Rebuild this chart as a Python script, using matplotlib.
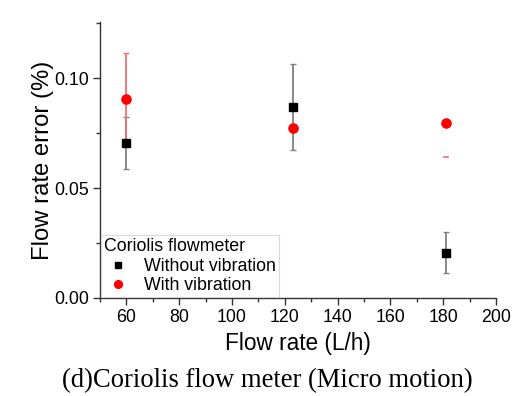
import matplotlib
matplotlib.use("Agg")
import matplotlib.pyplot as plt
import numpy as np
from matplotlib.ticker import MultipleLocator

plt.rcParams['font.family'] = ['Liberation Sans', 'DejaVu Sans']

# Data
x_without = [60, 123, 181]
y_without = [0.0706, 0.0868, 0.0205]
err_without = [0.0118, 0.0195, 0.0093]

x_with = [60, 123, 181]
y_with = [0.0905, 0.0773, 0.0794]
err_with = [0.021, 0.0, 0.0]

# stray lower cap visible for red series at 181
x_with_cap = [181]
y_with_cap = [0.0642]

fig = plt.figure(figsize=(5.28, 3.96), dpi=100)
ax = fig.add_axes([100/528, 1 - 298/396, 396/528, 276/396])

ax.errorbar(x_without, y_without, yerr=err_without, fmt='none',
            ecolor='#808080', elinewidth=1.3, capsize=2.5, capthick=1.0, zorder=2)
ax.errorbar(x_with, y_with, yerr=err_with, fmt='none',
            ecolor='#f07070', elinewidth=1.3, capsize=2.5, capthick=1.0, zorder=2)
ax.plot(x_with_cap, y_with_cap, linestyle='none', marker='_', color='#f07070',
        markersize=5, markeredgewidth=1.2, zorder=2)

h1, = ax.plot(x_without, y_without, linestyle='none', marker='s', color='black',
              markersize=5.6, label='Without vibration', zorder=3)
h2, = ax.plot(x_with, y_with, linestyle='none', marker='o', color='#ff0000',
              markersize=6.6, label='With vibration', zorder=4)

ax.set_xlim(50, 200)
ax.set_ylim(0, 0.1255)
ax.set_xticks([60, 80, 100, 120, 140, 160, 180, 200])
ax.xaxis.set_minor_locator(MultipleLocator(10))
ax.yaxis.set_major_locator(MultipleLocator(0.05))
ax.yaxis.set_minor_locator(MultipleLocator(0.025))
ax.yaxis.set_major_formatter(matplotlib.ticker.FormatStrFormatter('%.2f'))

for s in ['top', 'right']:
    ax.spines[s].set_visible(False)
for s in ['left', 'bottom']:
    ax.spines[s].set_linewidth(1.0)
    ax.spines[s].set_color('#333333')

ax.tick_params(axis='both', which='major', direction='out', length=5, width=1,
               labelsize=12.8, colors='#333333', labelcolor='black', pad=3)
ax.tick_params(axis='both', which='minor', direction='out', length=3, width=1,
               colors='#333333')

ax.set_xlabel('Flow rate (L/h)', fontsize=16.3, labelpad=4)
ax.set_ylabel('Flow rate error (%)', fontsize=17.2, labelpad=0)

leg = ax.legend(handles=[h1, h2], title='Coriolis flowmeter', loc='lower left',
                fontsize=12.8, title_fontsize=12.8, frameon=True, fancybox=False,
                borderaxespad=0.05, handletextpad=0.7, borderpad=0.15,
                labelspacing=0.15, handlelength=1.6, markerscale=0.85)
leg._legend_box.align = 'left'
leg.get_frame().set_edgecolor('#d0d0d0')
leg.get_frame().set_linewidth(0.8)

fig.text(267.5/528, 1 - 381/396, '(d)Coriolis flow meter (Micro motion)',
         ha='center', va='center', fontsize=19.2, family='Liberation Serif')

fig.savefig('out.png', dpi=100, facecolor='white')
